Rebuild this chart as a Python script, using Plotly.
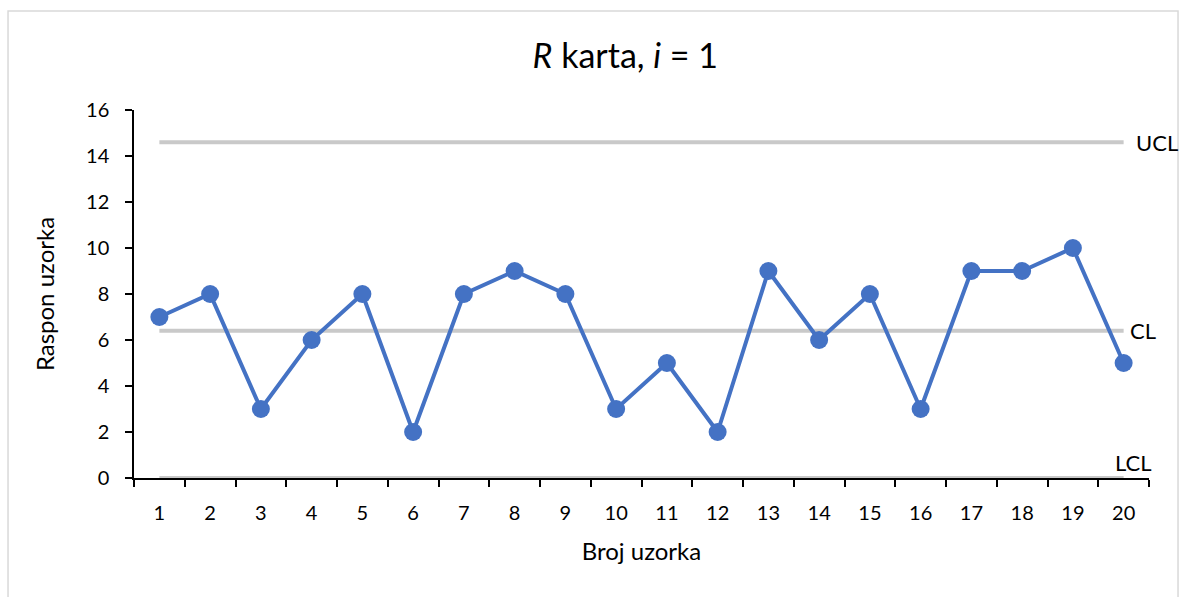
import plotly.graph_objects as go

samples = list(range(1, 21))
ranges = [7, 8, 3, 6, 8, 2, 8, 9, 8, 3, 5, 2, 9, 6, 8, 3, 9, 9, 10, 5]
ucl_value = 14.6
cl_value = 6.4
lcl_value = 0.0
limit_names = ["UCL", "CL", "LCL"]
y_ticks = [0, 2, 4, 6, 8, 10, 12, 14, 16]

FONT = "Lato, 'Open Sans', sans-serif"
BLUE = "#4472C4"
GRAY = "#C9C9C9"

fig = go.Figure()

for val in [ucl_value, cl_value, lcl_value]:
    fig.add_trace(go.Scatter(
        x=[samples[0], samples[-1]], y=[val, val], mode="lines",
        line=dict(color=GRAY, width=4), hoverinfo="skip", showlegend=False))

fig.add_trace(go.Scatter(
    x=samples, y=ranges, mode="lines+markers",
    line=dict(color=BLUE, width=4),
    marker=dict(color=BLUE, size=18),
    showlegend=False))

LBL = dict(family=FONT, size=22, color="black")
fig.add_annotation(x=samples[-1], y=ucl_value, text=limit_names[0], showarrow=False,
                   xanchor="left", xshift=10, font=LBL)
fig.add_annotation(x=samples[-1], y=cl_value, text=limit_names[1], showarrow=False,
                   xanchor="left", xshift=4, font=LBL)
fig.add_annotation(x=samples[-1], y=lcl_value, text=limit_names[2], showarrow=False,
                   xanchor="center", xshift=10, yshift=16, font=LBL)

# outer border
fig.add_shape(type="rect", xref="paper", yref="paper",
              x0=-0.1241, x1=1.0286, y0=-0.36, y1=1.269,
              line=dict(color="#D9D9D9", width=1.5), layer="below")

fig.update_layout(
    width=1181, height=597,
    margin=dict(l=134, r=32, t=110, b=119),
    paper_bgcolor="white", plot_bgcolor="white",
    font=dict(family=FONT, size=20, color="black"),
    title=dict(text="<i>R</i> karta, <i>i</i> = 1", x=0.484, xref="paper", xanchor="center",
               y=1 - 56 / 597, yref="container", yanchor="middle",
               font=dict(family=FONT, size=34, color="black")),
)

fig.update_xaxes(
    range=[0.5, 20.5], tickvals=samples, ticktext=[str(s) for s in samples],
    ticks="", showgrid=False, zeroline=False,
    showline=True, linecolor="black", linewidth=1.5,
    tickfont=dict(family=FONT, size=20), ticklabelstandoff=16,
    minor=dict(tickvals=[s - 0.5 for s in samples] + [samples[-1] + 0.5],
               ticks="outside", ticklen=7, tickcolor="black", tickwidth=1.5, showgrid=False),
    title=dict(text="Broj uzorka", font=dict(family=FONT, size=24), standoff=20),
)
fig.update_yaxes(
    range=[0, 16], tickvals=y_ticks, ticks="outside", ticklen=7, tickcolor="black", tickwidth=1.5,
    showgrid=False, zeroline=False, showline=True, linecolor="black", linewidth=1.5,
    tickfont=dict(family=FONT, size=20), ticklabelstandoff=12,
    title=dict(text="Raspon uzorka", font=dict(family=FONT, size=24), standoff=25),
)

fig.write_html("out.html", config={"displayModeBar": False},
               post_script="document.body.style.margin='0';")
